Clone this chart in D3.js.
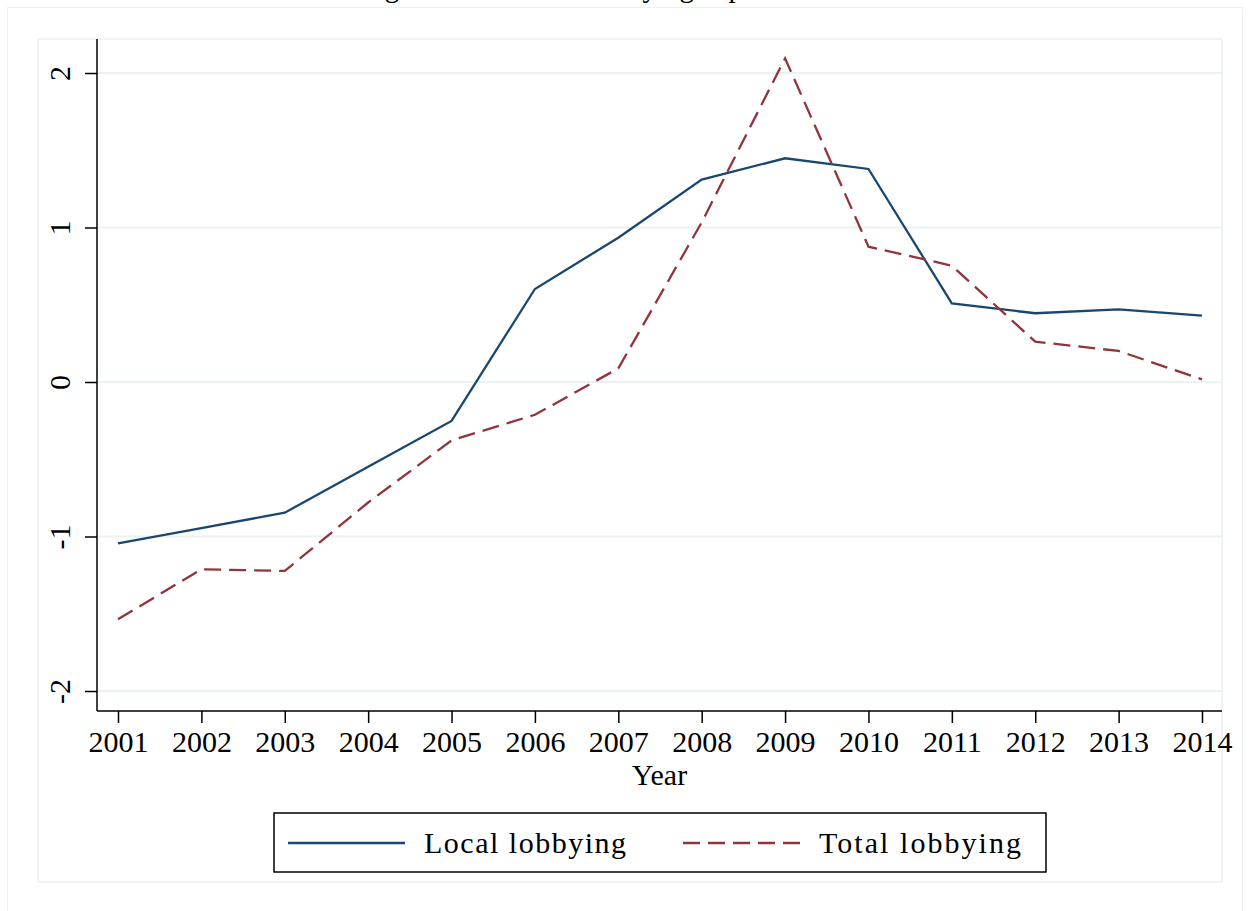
<!DOCTYPE html>
<html>
<head>
<meta charset="utf-8">
<script src="https://cdn.jsdelivr.net/npm/d3@7"></script>
<style>
  html, body { margin: 0; padding: 0; background: #fff; }
  svg { display: block; }
  text { font-family: "Liberation Serif", "Times New Roman", serif; fill: #000; }
</style>
</head>
<body>
<svg id="chart" width="1252" height="911"></svg>
<script>
// Years on the horizontal axis
const years = [2001, 2002, 2003, 2004, 2005, 2006, 2007, 2008, 2009, 2010, 2011, 2012, 2013, 2014];
// Standardized lobbying series
const localLobbying = [-1.045, -0.945, -0.846, -0.548, -0.252, 0.602, 0.934, 1.31, 1.448, 1.379, 0.509, 0.445, 0.470, 0.429];
const totalLobbying = [-1.536, -1.212, -1.223, -0.78, -0.378, -0.212, 0.088, 1.033, 2.095, 0.876, 0.753, 0.261, 0.201, 0.017];
// Axis ticks
const yTicks = [-2, -1, 0, 1, 2];
const xTicks = years;
// Legend entries
const seriesNames = ["Local lobbying", "Total lobbying"];

const svg = d3.select("#chart");
const gridColor = "#eaf2f3";
const blue = "#1a476f";
const red = "#90353b";
const dashPattern = "17,8";
const plainNumber = d => String(d);

// Outer graph region and inner plot region frames
svg.append("rect").attr("x", 7.5).attr("y", 7.5).attr("width", 1235).attr("height", 910)
  .attr("fill", "none").attr("stroke", gridColor).attr("stroke-width", 1.2);
svg.append("rect").attr("x", 38).attr("y", 39).attr("width", 1184).attr("height", 843)
  .attr("fill", "none").attr("stroke", gridColor).attr("stroke-width", 1.5);

// Title sitting just above the visible area
svg.append("text").attr("x", 316).attr("y", -3).attr("font-size", 29)
  .text("Average local and total lobbying expenditure");

const plotLeft = 97, plotRight = 1222, plotTop = 39, plotBottom = 711;
const x = d3.scaleLinear().domain([2001, 2014]).range([118, 1202]);
const y = d3.scaleLinear().domain([-2.1294, 2.2201]).range([plotBottom, plotTop]);

// Horizontal grid lines
svg.append("g").selectAll("line").data(yTicks).join("line")
  .attr("x1", plotLeft + 1).attr("x2", plotRight)
  .attr("y1", d => y(d)).attr("y2", d => y(d))
  .attr("stroke", gridColor).attr("stroke-width", 2);

// Y axis
const yAxis = svg.append("g").attr("transform", `translate(${plotLeft},0)`)
  .call(d3.axisLeft(y).tickValues(yTicks).tickSize(12).tickFormat(plainNumber));
yAxis.select(".domain").attr("d", `M0,${plotTop}V${plotBottom}`).attr("stroke", "#000").attr("stroke-width", 1.5);
yAxis.selectAll(".tick line").attr("stroke", "#000").attr("stroke-width", 1.5);
yAxis.selectAll(".tick text")
  .attr("x", 0).attr("y", 0).attr("dy", null)
  .attr("font-size", 30).attr("font-family", "Liberation Serif, serif")
  .attr("text-anchor", "middle")
  .attr("transform", "translate(-27,0) rotate(-90)");

// X axis
const xAxis = svg.append("g").attr("transform", `translate(0,${plotBottom})`)
  .call(d3.axisBottom(x).tickValues(xTicks).tickSize(12).tickFormat(plainNumber));
xAxis.select(".domain").attr("d", `M${plotLeft},0H${plotRight}`).attr("stroke", "#000").attr("stroke-width", 1.5);
xAxis.selectAll(".tick line").attr("stroke", "#000").attr("stroke-width", 1.5);
xAxis.selectAll(".tick text")
  .attr("y", 41).attr("dy", null)
  .attr("font-size", 30).attr("font-family", "Liberation Serif, serif");

// Axis title
svg.append("text").attr("x", (plotLeft + plotRight) / 2).attr("y", 785)
  .attr("text-anchor", "middle").attr("font-size", 30).text("Year");

// Series lines
const line = d3.line().x((d, i) => x(years[i])).y(d => y(d));
svg.append("path").datum(localLobbying).attr("d", line)
  .attr("fill", "none").attr("stroke", blue).attr("stroke-width", 2.3)
  .attr("stroke-linejoin", "miter");
svg.append("path").datum(totalLobbying).attr("d", line)
  .attr("fill", "none").attr("stroke", red).attr("stroke-width", 2.3)
  .attr("stroke-dasharray", dashPattern).attr("stroke-linejoin", "miter");

// Legend
const legend = svg.append("g");
legend.append("rect").attr("x", 274).attr("y", 813).attr("width", 772).attr("height", 59)
  .attr("fill", "#fff").attr("stroke", "#000").attr("stroke-width", 1.5);
const legendItems = [
  { name: seriesNames[0], color: blue, dash: null, x0: 288 },
  { name: seriesNames[1], color: red, dash: dashPattern, x0: 683 }
];
legendItems.forEach(it => {
  legend.append("line").attr("x1", it.x0).attr("x2", it.x0 + 117)
    .attr("y1", 843).attr("y2", 843)
    .attr("stroke", it.color).attr("stroke-width", 2.3)
    .attr("stroke-dasharray", it.dash);
  legend.append("text").attr("x", it.x0 + 136).attr("y", 853)
    .attr("font-size", 30).attr("textLength", 202).attr("lengthAdjust", "spacing")
    .text(it.name);
});
</script>
</body>
</html>
